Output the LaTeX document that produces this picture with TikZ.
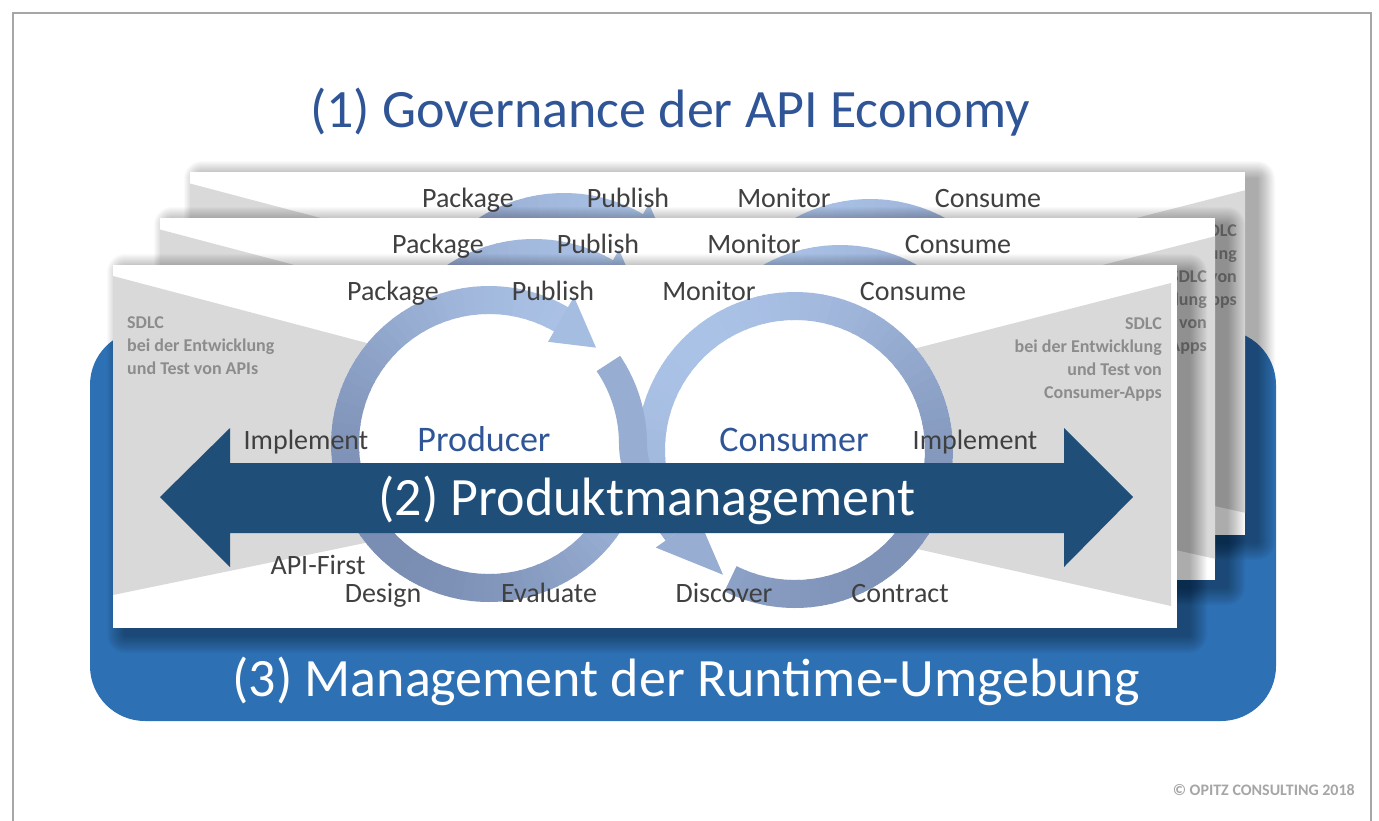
\documentclass[tikz,border=0pt]{standalone}
\usepackage{fontspec}
\setmainfont{Carlito}
\usetikzlibrary{calc}

\definecolor{titleblue}{HTML}{2F5597}
\definecolor{labelgray}{HTML}{404040}
\definecolor{sdlcgray}{HTML}{8C8C8C}
\definecolor{wedgegray}{HTML}{D9D9D9}
\definecolor{arrowblue}{HTML}{1F4E79}
\definecolor{boxblue}{HTML}{2D70B3}
\definecolor{ringdark}{HTML}{7A8DB2}
\definecolor{ringlight}{HTML}{ABC2E7}
\definecolor{framegray}{HTML}{A6A6A6}
\definecolor{copygray}{HTML}{A6A6A6}
\colorlet{ringmid}{ringlight!60!ringdark}

% soft drop shadow of a sheet: stacked translucent rectangles
\newcommand\sheetshadow[4]{%
  \foreach \d in {1,...,18} {%
    \fill[black, opacity=0.021, rounded corners=\d pt]
      (#1+12-\d, #2+7-\d) rectangle (#3+12+\d, #4+7+\d);
  }
}

% one lifecycle sheet: grey SDLC wedges, the two rings and their labels
\newcommand\cardbody[1]{%
  \coordinate (#1-P) at (489,444);
  \coordinate (#1-C) at (795,450);
  \fill[wedgegray] (113,276) -- (791,455) -- (113,595) -- cycle;
  \fill[wedgegray] (1171,283) -- (499,455) -- (1171,606) -- cycle;
  \fill[white] (#1-P) circle[radius=158];
  \fill[white] (#1-C) circle[radius=158];
  % consumer ring
  \foreach \a in {-200,-196,...,112} {%
    \pgfmathsetmacro\b{\a+4.6}%
    \pgfmathsetmacro\m{55-45*cos(\a-45)}%
    \draw[ring, ringlight!\m!ringdark] ($(#1-C)+(\a:144)$) arc[start angle=\a, end angle=\b, radius=144];
  }
  % producer ring
  \foreach \a in {20,24,...,296} {%
    \pgfmathsetmacro\b{\a+4.6}%
    \pgfmathsetmacro\m{50-50*cos(\a-135)}%
    \draw[ring, ringlight!\m!ringdark] ($(#1-P)+(\a:144)$) arc[start angle=\a, end angle=\b, radius=144];
  }
  \fill[ringlight!90!ringdark] ($(#1-P)+(300:170)$) -- ($(#1-P)+(318:144)$) -- ($(#1-P)+(300:118)$) -- cycle;
  % crossing from Publish to Discover
  \draw[ring, ringmid] ($(#1-P)+(326:144)$) arc[start angle=326, end angle=360, radius=144]
    .. controls +(0,36) and +(-17,-24) .. ($(#1-C)+(145:144)$);
  \fill[ringmid] ($(#1-C)+(145:170)$) -- ($(#1-C)+(120:144)$) -- ($(#1-C)+(145:118)$) -- cycle;
  % labels
  \node[lbl] (#1-package) at (393,300) {Package};
  \node[lbl] (#1-publish) at (553,300) {Publish};
  \node[lbl] (#1-monitor) at (709,300) {Monitor};
  \node[lbl] (#1-consume) at (913,300) {Consume};
  \node[lbl] (#1-implp) at (306,449) {Implement};
  \node[lbl] (#1-implc) at (975,449) {Implement};
  \node[role] (#1-producer) at (484,451) {Producer};
  \node[role] (#1-consumer) at (794,451) {Consumer};
  \node[lbl] (#1-apifirst) at (318,574) {API-First};
  \node[lbl] (#1-design) at (383,602) {Design};
  \node[lbl] (#1-evaluate) at (549,602) {Evaluate};
  \node[lbl] (#1-discover) at (724,602) {Discover};
  \node[lbl] (#1-contract) at (900,602) {Contract};
  \node[sdlc, anchor=north west, align=left] (#1-sdlcl) at (127,316)
    {SDLC\\bei der Entwicklung\\und Test von APIs};
  \node[sdlc, anchor=north east, align=right] (#1-sdlcr) at (1162,317)
    {SDLC\\bei der Entwicklung\\und Test von\\Consumer-Apps};
}

\begin{document}
\begin{tikzpicture}[x=1pt, y=-1pt,
  ring/.style={line width=28pt, line cap=butt},
  lbl/.style={anchor=base, inner sep=0pt, text=labelgray, font=\fontsize{28}{32}\selectfont},
  role/.style={anchor=base, inner sep=0pt, text=titleblue, font=\fontsize{36}{40}\selectfont},
  heading/.style={anchor=base, inner sep=0pt, font=\fontsize{54}{60}\selectfont},
  sdlc/.style={inner sep=0pt, text=sdlcgray, font=\bfseries\fontsize{18}{23}\selectfont},
  sheet/.style={fill=white}]
\useasboundingbox (0,0) rectangle (1379,820);
\fill[white] (0,0) rectangle (1379,820);
\draw[framegray, line width=1.2pt] (13,830) -- (13,13) -- (1371,13) -- (1371,830);

% (1) heading
\node[heading, text=titleblue] (gov) at (670,127) {(1) Governance der API Economy};

% (3) runtime layer
\fill[boxblue, rounded corners=55pt] (90,330) rectangle (1276,721);
\node[heading, text=white] (rt) at (686,696) {(3) Management der Runtime-Umgebung};

% back sheet
\sheetshadow{190}{172}{1245}{535}
\fill[sheet] (190,172) rectangle (1245,535);
\begin{scope}
  \clip (190,172) rectangle (1245,535);
  \begin{scope}[shift={(75,-93)}]
    \cardbody{b}
  \end{scope}
\end{scope}

% middle sheet
\sheetshadow{160}{218}{1215}{580}
\fill[sheet] (160,218) rectangle (1215,580);
\begin{scope}
  \clip (160,218) rectangle (1215,580);
  \begin{scope}[shift={(45,-47)}]
    \cardbody{m}
  \end{scope}
\end{scope}

% front sheet
\sheetshadow{113}{265}{1177}{628}
\fill[sheet] (113,265) rectangle (1177,628);
\begin{scope}
  \clip (113,265) rectangle (1177,628);
  \cardbody{f}
\end{scope}

% (2) double arrow
\fill[arrowblue] (160,497) -- (230,428) -- (230,463) -- (1064,463) -- (1064,428)
  -- (1133,497) -- (1064,567) -- (1064,533) -- (230,533) -- (230,567) -- cycle;
\node[heading, text=white] (pm) at (647,515) {(2) Produktmanagement};

\node[anchor=base east, inner sep=0pt, text=copygray, font=\bfseries\fontsize{16}{18}\selectfont]
  (copy) at (1355,795) {© OPITZ CONSULTING 2018};
\end{tikzpicture}
\end{document}
